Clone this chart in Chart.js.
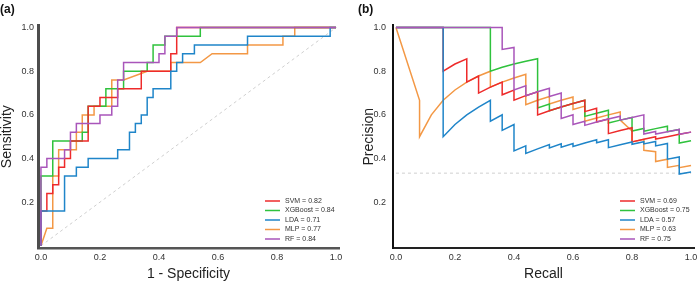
<!DOCTYPE html>
<html>
<head>
<meta charset="utf-8">
<script src="https://cdn.jsdelivr.net/npm/chart.js@4.4.0/dist/chart.umd.min.js"></script>
<style>
  body { margin: 0; background: #fff; }
  #wrap { position: relative; width: 697px; height: 281px; }
  canvas { position: absolute; top: 0; }
</style>
</head>
<body>
<div id="wrap">
  <canvas id="rocChart" width="348" height="281" style="left:0"></canvas>
  <canvas id="prChart" width="349" height="281" style="left:348px"></canvas>
</div>
<script>
// model names and AUC values shown in the legends
var models = ["SVM", "XGBoost", "LDA", "MLP", "RF"];
var rocAuc = ["0.82", "0.84", "0.71", "0.77", "0.84"];
var prAuc = ["0.69", "0.75", "0.57", "0.63", "0.75"];
var axisTicks = [0, 0.2, 0.4, 0.6, 0.8, 1.0];
var yTicks = [0.2, 0.4, 0.6, 0.8, 1.0];

// ROC curves (1 - specificity, sensitivity)
var svmFpr = [0, 0, .02, .02, .04, .04, .06, .06, .08, .08, .10, .10, .16, .16, .20, .20, .26, .26, .34, .34, .44, .44, .46, .46, 1];
var svmTpr = [0, .16, .16, .24, .24, .28, .28, .36, .36, .40, .40, .48, .48, .64, .64, .68, .68, .72, .72, .80, .80, .88, .88, 1, 1];
var xgbFpr = [0, 0, .04, .04, .14, .14, .16, .16, .22, .22, .28, .28, .36, .36, .38, .38, .42, .42, .54, .54, 1];
var xgbTpr = [0, .32, .32, .48, .48, .52, .52, .64, .64, .72, .72, .80, .80, .84, .84, .92, .92, .96, .96, 1, 1];
var ldaFpr = [0, 0, .08, .08, .12, .12, .16, .16, .26, .26, .30, .30, .32, .32, .34, .34, .36, .36, .38, .38, .44, .44, .46, .46, .48, .48, .52, .52, .70, .70, .98, .98, 1];
var ldaTpr = [0, .16, .16, .32, .32, .36, .36, .40, .40, .44, .44, .52, .52, .56, .56, .60, .60, .68, .68, .72, .72, .80, .80, .84, .84, .88, .88, .92, .92, .96, .96, 1, 1];
var mlpFpr = [0, .02, .04, .04, .06, .06, .12, .12, .14, .14, .18, .18, .24, .24, .28, .36, .44, .44, .54, .58, .70, .70, .82, .82, .86, .86, 1];
var mlpTpr = [0, .08, .08, .32, .32, .44, .44, .52, .52, .60, .60, .64, .64, .76, .76, .80, .80, .84, .84, .88, .88, .92, .92, .96, .96, 1, 1];
var rfFpr = [0, 0, .02, .02, .08, .08, .10, .10, .12, .12, .20, .20, .24, .24, .26, .26, .28, .28, .40, .40, .42, .42, .46, .46, 1];
var rfTpr = [0, .36, .36, .40, .40, .44, .44, .52, .52, .56, .56, .60, .60, .64, .64, .76, .76, .84, .84, .88, .88, .96, .96, 1, 1];
var chanceX = [0, 1];
var chanceY = [0, 1];

// precision-recall curves (recall, precision)
var svmRec = [0, .16, .16, .20, .24, .24, .28, .28, .32, .36, .36, .40, .40, .44, .48, .48, .52, .56, .60, .64, .64, .68, .68, .72, .72, .76, .80, .80, .84, .88, .88, .92, .96, 1];
var svmPre = [1, 1, .8, .833, .857, .75, .778, .7, .727, .75, .692, .714, .667, .688, .706, .6, .619, .636, .652, .667, .615, .63, .567, .581, .514, .528, .541, .476, .488, .5, .489, .5, .511, .521];
var xgbRec = [0, .32, .32, .36, .40, .44, .48, .48, .52, .52, .56, .60, .64, .64, .68, .72, .72, .76, .80, .80, .84, .84, .88, .92, .92, .96, .96, 1];
var xgbPre = [1, 1, .8, .818, .833, .846, .857, .632, .65, .619, .636, .652, .667, .593, .607, .621, .563, .576, .588, .526, .538, .525, .537, .548, .523, .533, .471, .481];
var ldaRec = [0, .16, .16, .20, .24, .28, .32, .32, .36, .36, .40, .40, .44, .44, .48, .52, .52, .56, .56, .60, .60, .64, .68, .68, .72, .72, .76, .80, .80, .84, .84, .88, .88, .92, .92, .96, .96, 1];
var ldaPre = [1, 1, .5, .556, .6, .636, .667, .571, .6, .529, .556, .435, .458, .423, .444, .464, .448, .467, .452, .469, .455, .471, .486, .472, .486, .45, .463, .476, .465, .477, .467, .478, .458, .469, .397, .407, .329, .338];
var mlpRec = [0, .08, .08, .12, .16, .20, .24, .28, .32, .32, .36, .40, .44, .44, .48, .52, .52, .56, .60, .60, .64, .64, .68, .72, .76, .76, .80, .80, .84, .84, .88, .88, .92, .92, .96, .96, 1];
var mlpPre = [1, .667, .5, .6, .667, .714, .75, .778, .8, .727, .75, .769, .786, .647, .667, .684, .65, .667, .682, .625, .64, .571, .586, .6, .613, .576, .526, .476, .488, .438, .431, .386, .397, .359, .369, .358, .368];
var rfRec = [0, .36, .36, .40, .40, .44, .44, .48, .52, .52, .56, .56, .60, .60, .64, .64, .68, .72, .76, .76, .80, .84, .84, .88, .88, .92, .96, .96, 1];
var rfPre = [1, 1, .9, .909, .714, .733, .688, .706, .722, .684, .7, .583, .6, .556, .571, .552, .567, .581, .594, .576, .588, .6, .512, .524, .512, .523, .533, .511, .521];
var baseX = [0, 1];
var baseY = [0.333, 0.333];

var colors = ["#ee2b2b", "#2fc23d", "#1f85c9", "#f39845", "#a955ba"];
var drawOrder = [2, 3, 1, 4, 0];
var family = "'Liberation Sans', Arial, sans-serif";

function lineSet(label, xs, ys, color, order) {
	return {
		label: label,
		data: xs.map(function (x, i) {
			return { x: x, y: ys[i] };
		}),
		borderColor: color,
		borderWidth: 1.5,
		pointRadius: 0,
		tension: 0,
		fill: false,
		order: order,
	};
}

function dashedSet(xs, ys) {
	var set = lineSet("", xs, ys, "#cfcfcf", 10);
	set.borderWidth = 1;
	set.borderDash = [3, 3];
	return set;
}

function makeLegend(labels) {
	return {
		id: "insideLegend",
		afterDatasetsDraw: function (chart) {
			var ctx = chart.ctx;
			var area = chart.chartArea;
			ctx.save();
			ctx.font = "7px " + family;
			ctx.textBaseline = "middle";
			ctx.fillStyle = "#333";
			labels.forEach(function (text, i) {
				var x = area.right - 74;
				var y = area.bottom - 47 + i * 9.5;
				ctx.strokeStyle = colors[i];
				ctx.lineWidth = 1.5;
				ctx.beginPath();
				ctx.moveTo(x, y);
				ctx.lineTo(x + 15, y);
				ctx.stroke();
				ctx.fillText(text, x + 20, y);
			});
			ctx.restore();
		},
	};
}

function axes(xTitle, yTitle, yWidth, yPad, yTitlePad, yBorder, xBorder) {
	return {
		x: {
			type: "linear",
			min: -0.01,
			max: 1.01,
			grid: { display: false, drawTicks: false, tickLength: 0 },
			border: { display: true, color: xBorder.color, width: xBorder.width },
			ticks: {
				padding: 4,
				color: "#333",
				font: { size: 9, family: family },
				callback: function (v) { return v.toFixed(1); },
			},
			title: {
				display: true,
				text: xTitle,
				color: "#222",
				font: { size: 14, family: family, lineHeight: 1 },
				padding: 0,
			},
			afterBuildTicks: function (scale) {
				scale.ticks = axisTicks.map(function (v) { return { value: v }; });
			},
			afterFit: function (scale) {
				scale.height = 33;
				scale.paddingLeft = 0;
				scale.paddingRight = 0;
			},
		},
		y: {
			type: "linear",
			min: -0.01,
			max: 1.01,
			grid: { display: false, drawTicks: false, tickLength: 0 },
			border: { display: true, color: yBorder.color, width: yBorder.width },
			ticks: {
				padding: yPad,
				color: "#333",
				font: { size: 9, family: family },
				callback: function (v) { return v.toFixed(1); },
			},
			title: {
				display: true,
				text: yTitle,
				color: "#222",
				font: { size: 14, family: family, lineHeight: 1 },
				padding: { top: yTitlePad, bottom: 0 },
			},
			afterBuildTicks: function (scale) {
				scale.ticks = yTicks.map(function (v) { return { value: v }; });
			},
			afterFit: function (scale) {
				scale.width = yWidth;
				scale.paddingTop = 0;
				scale.paddingBottom = 0;
			},
		},
	};
}

function panelTitle(text) {
	return {
		display: true,
		text: text,
		align: "start",
		color: "#111",
		font: { size: 12, weight: "bold", family: family },
		padding: { top: 2, bottom: 9 },
	};
}

var rocSets = [
	lineSet(models[0], svmFpr, svmTpr, colors[0], drawOrder[0]),
	lineSet(models[1], xgbFpr, xgbTpr, colors[1], drawOrder[1]),
	lineSet(models[2], ldaFpr, ldaTpr, colors[2], drawOrder[2]),
	lineSet(models[3], mlpFpr, mlpTpr, colors[3], drawOrder[3]),
	lineSet(models[4], rfFpr, rfTpr, colors[4], drawOrder[4]),
	dashedSet(chanceX, chanceY),
];

var prSets = [
	lineSet(models[0], svmRec, svmPre, colors[0], drawOrder[0]),
	lineSet(models[1], xgbRec, xgbPre, colors[1], drawOrder[1]),
	lineSet(models[2], ldaRec, ldaPre, colors[2], drawOrder[2]),
	lineSet(models[3], mlpRec, mlpPre, colors[3], drawOrder[3]),
	lineSet(models[4], rfRec, rfPre, colors[4], drawOrder[4]),
	dashedSet(baseX, baseY),
];

new Chart(document.getElementById("rocChart"), {
	type: "line",
	data: { datasets: rocSets },
	options: {
		responsive: false,
		animation: false,
		devicePixelRatio: 1,
		layout: { padding: { left: 0, right: 9, top: 0, bottom: 0 } },
		plugins: {
			legend: { display: false },
			tooltip: { enabled: false },
			title: panelTitle("(a)"),
		},
		scales: axes("1 - Specificity", "Sensitivity", 38, 4, 0,
			{ color: "#4d4d4d", width: 3 }, { color: "#555", width: 2.5 }),
	},
	plugins: [makeLegend(models.map(function (m, i) { return m + " = " + rocAuc[i]; }))],
});

new Chart(document.getElementById("prChart"), {
	type: "line",
	data: { datasets: prSets },
	options: {
		responsive: false,
		animation: false,
		devicePixelRatio: 1,
		layout: { padding: { left: 10, right: 3, top: 0, bottom: 0 } },
		plugins: {
			legend: { display: false },
			tooltip: { enabled: false },
			title: panelTitle("(b)"),
		},
		scales: axes("Recall", "Precision", 35, 7, 4,
			{ color: "#111", width: 2 }, { color: "#222", width: 2 }),
	},
	plugins: [makeLegend(models.map(function (m, i) { return m + " = " + prAuc[i]; }))],
});
</script>
</body>
</html>
